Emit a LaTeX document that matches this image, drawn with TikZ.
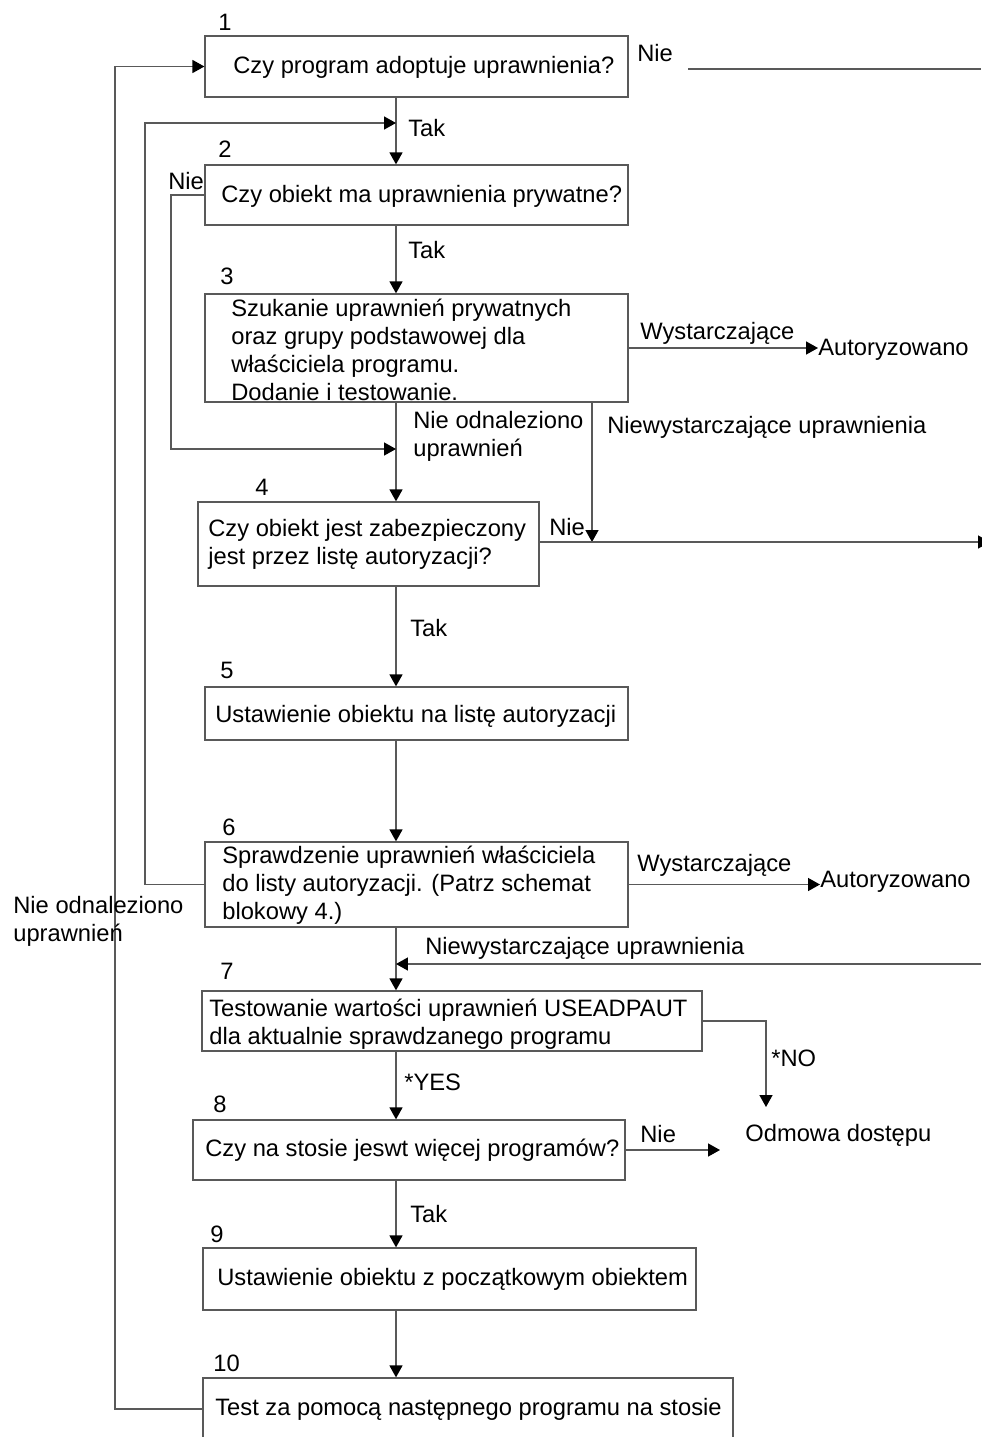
\documentclass[tikz,border=0pt]{standalone}
\usepackage{fontspec}
\setmainfont{Liberation Sans}
\usetikzlibrary{arrows.meta, calc}

\definecolor{linia}{gray}{0.35}
\newcommand\rozmiar{\fontsize{13.5}{15.9}\selectfont}

\begin{document}
\begin{tikzpicture}[
  x=0.02cm, y=-0.02cm,
  blok/.style={draw=linia, line width=0.75pt, inner sep=0pt},
  napis/.style={inner sep=0pt, font=\rozmiar, anchor=west, align=left},
  strz/.style={draw=linia, line width=0.75pt,
    -{Triangle[length=6.8pt, width=7.4pt, color=black]}},
  linka/.style={draw=linia, line width=0.75pt},
]
\useasboundingbox (0,0) rectangle (981,1437);

% --- Boxes ---
\node[blok, minimum width=8.46cm, minimum height=1.22cm] (b1) at (416.5,66.5) {};
\node[blok, minimum width=8.46cm, minimum height=1.2cm]  (b2) at (416.5,195) {};
\node[blok, minimum width=8.46cm, minimum height=2.16cm] (b3) at (416.5,348) {};
\node[blok, minimum width=6.82cm, minimum height=1.68cm] (b4) at (368.5,544) {};
\node[blok, minimum width=8.46cm, minimum height=1.06cm] (b5) at (416.5,713.5) {};
\node[blok, minimum width=8.46cm, minimum height=1.7cm]  (b6) at (416.5,884.5) {};
\node[blok, minimum width=10cm,   minimum height=1.2cm]  (b7) at (452,1021) {};
\node[blok, minimum width=8.64cm, minimum height=1.2cm]  (b8) at (409,1150) {};
\node[blok, minimum width=9.86cm, minimum height=1.24cm] (b9) at (449.5,1279) {};
\node[blok, minimum width=10.6cm, minimum height=1.24cm] (b10) at (468,1409) {};

% Box texts
\node[napis] (t1) at (233,67) {Czy program adoptuje uprawnienia?};
\node[napis] (t2) at (221,196) {Czy obiekt ma uprawnienia prywatne?};
\node[napis] (t3) at (231,350) {Szukanie uprawnień prywatnych\\
  oraz grupy podstawowej dla\\właściciela programu.\\Dodanie i testowanie.};
\node[napis] (t4) at (208,544) {Czy obiekt jest zabezpieczony\\
  jest przez listę autoryzacji?};
\node[napis] (t5) at (215,716) {Ustawienie obiektu na listę autoryzacji};
\node[napis] (t6) at (222,885) {Sprawdzenie uprawnień właściciela\\
  do listy autoryzacji. (Patrz schemat\\blokowy 4.)};
\node[napis] (t7) at (209,1024) {Testowanie wartości uprawnień USEADPAUT\\
  dla aktualnie sprawdzanego programu};
\node[napis] (t8) at (205,1150) {Czy na stosie jeswt więcej programów?};
\node[napis] (t9) at (217,1279) {Ustawienie obiektu z początkowym obiektem};
\node[napis] (t10) at (215,1409) {Test za pomocą następnego programu na stosie};

% Step numbers
\foreach \n/\x/\y in {1/218/22, 2/218/149, 3/220/276, 4/255/487, 5/220/670,
    6/222/827, 7/220/971, 8/213/1104, 9/210/1234, 10/213/1363}
  \node[napis] (nr\n) at (\x,\y) {\n};

% --- Outcomes ---
\node[napis] (aut1) at (818,350) {Autoryzowano};
\node[napis] (aut2) at (820,882) {Autoryzowano};
\node[napis] (odm) at (745,1135) {Odmowa dostępu};

% --- Helper points ---
\coordinate (kol) at (396,0);
\coordinate (kol2) at (592,0);
\coordinate (wej2) at (396,123);
\coordinate (wej4) at (396,449);
\coordinate (wej7) at (396,964);
\coordinate (nie1) at (688,69);
\coordinate (prawy1) at (981,69);
\coordinate (prawy4) at (990,542);
\coordinate (prawy7) at (981,964);
\coordinate (nie7) at (766,1107);
\coordinate (nie8) at (720,1150);

% --- Main column ---
\foreach \a/\b in {b1/b2, b2/b3, b3/b4, b4/b5, b5/b6, b6/b7, b7/b8, b8/b9, b9/b10}
  \draw[strz] (\a.south -| kol) -- (\b.north -| kol);

% --- Side connectors ---
\draw[linka] (nie1) -- (prawy1);
\draw[strz] (b6.west) -| (145,123) -- (wej2);
\draw[strz] (b2.west) -| (171,449) -- (wej4);
\draw[strz] (b10.west) -| (115,66.5) -- (b1.west);
\draw[strz] (b3.east) -- (b3.east -| aut1.west);
\draw[strz] (b6.east) -- (b6.east -| aut2.west);
\draw[strz] (b3.south -| kol2) -- (kol2 |- prawy4);
\draw[strz] (b4.east |- prawy4) -- (prawy4);
\draw[strz] (prawy7) -- (wej7);
\draw[strz] (b7.east) -| (nie7);
\draw[strz] (b8.east) -- (nie8);

% --- Connector labels ---
\node[napis] (l1) at (637,53) {Nie};
\node[napis] (l2) at (408,128) {Tak};
\node[napis] (l3) at (168,181) {Nie};
\node[napis] (l4) at (408,250) {Tak};
\node[napis] (l5) at (640,333) {Wystarczające};
\node[napis] (l6) at (413,436) {Nie odnaleziono\\uprawnień};
\node[napis] (l7) at (607,427) {Niewystarczające uprawnienia};
\node[napis] (l8) at (549,527) {Nie};
\node[napis] (l9) at (410,628) {Tak};
\node[napis] (l10) at (637,865) {Wystarczające};
\node[napis] (l11) at (13,921) {Nie odnaleziono\\uprawnień};
\node[napis] (l12) at (425,948) {Niewystarczające uprawnienia};
\node[napis] (l13) at (771,1058) {*NO};
\node[napis] (l14) at (404,1082) {*YES};
\node[napis] (l15) at (640,1134) {Nie};
\node[napis] (l16) at (410,1214) {Tak};

\end{tikzpicture}
\end{document}
